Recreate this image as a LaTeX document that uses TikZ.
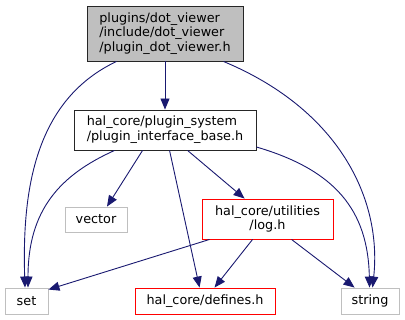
\documentclass[tikz,border=0pt]{standalone}
\usepackage{fontspec}
\setmainfont{DejaVu Sans}
\usetikzlibrary{arrows.meta}
\definecolor{edgeblue}{HTML}{191970}
\definecolor{boxgray}{HTML}{BFBFBF}
\definecolor{boxred}{HTML}{FF0000}
\tikzset{
  box/.style={draw, line width=0.9pt, inner sep=0pt, align=center,
    font=\fontsize{12.8}{14.7}\selectfont},
  rootbox/.style={box, draw=black!85, fill=boxgray, align=left},
  mainbox/.style={box, draw=black!85, align=left},
  graybox/.style={box, draw=boxgray},
  redbox/.style={box, draw=boxred},
  dep/.style={draw=edgeblue, line width=0.9pt,
    -{Triangle[length=11pt,width=9pt]}, color=edgeblue},
}
\begin{document}
\begin{tikzpicture}[x=1pt, y=-1pt]
\useasboundingbox (0,0) rectangle (405,320);
\node[rootbox, minimum width=156pt, minimum height=55pt] (top) at (165,33.5)
  {plugins/dot\_viewer\\/include/dot\_viewer\\/plugin\_dot\_viewer.h};
\node[mainbox, minimum width=182pt, minimum height=40pt] (base) at (165,130)
  {hal\_core/plugin\_system\\/plugin\_interface\_base.h};
\node[graybox, minimum width=62pt, minimum height=25pt] (vector) at (96,219.5) {vector};
\node[redbox, minimum width=131pt, minimum height=40pt] (log) at (267.5,219)
  {hal\_core/utilities\\/log.h};
\node[graybox, minimum width=43pt, minimum height=26pt] (set) at (26.5,301) {set};
\node[redbox, minimum width=140pt, minimum height=26pt] (defines) at (205,301) {hal\_core/defines.h};
\node[graybox, minimum width=58pt, minimum height=26pt] (string) at (370,301) {string};

\draw[dep] (top.south) -- (base.north);
\draw[dep] ([xshift=30pt]top.south west) .. controls (35,100) and (22,190) .. ([xshift=-1.5pt]set.north);
\draw[dep] ([xshift=-20pt]top.south east) .. controls (340,110) and (382,200) .. ([xshift=32pt]string.north west);

\draw[dep] ([xshift=41pt]base.south west) .. controls (60,175) and (28,210) .. ([xshift=1.5pt]set.north);
\draw[dep] ([xshift=69pt]base.south west) -- ([xshift=11pt]vector.north);
\draw[dep] ([xshift=96pt]base.south west) -- ([xshift=65pt]defines.north west);
\draw[dep] ([xshift=114pt]base.south west) -- ([xshift=43pt]log.north west);
\draw[dep] ([yshift=-17pt]base.east) .. controls (335,170) and (368,210) .. ([xshift=29pt]string.north west);

\draw[dep] ([xshift=8pt]log.south west) -- ([yshift=-2pt]set.north east);
\draw[dep] ([xshift=51pt]log.south west) -- ([xshift=80pt]defines.north west);
\draw[dep] ([xshift=90pt]log.south west) -- ([xshift=14pt]string.north west);
\end{tikzpicture}
\end{document}
